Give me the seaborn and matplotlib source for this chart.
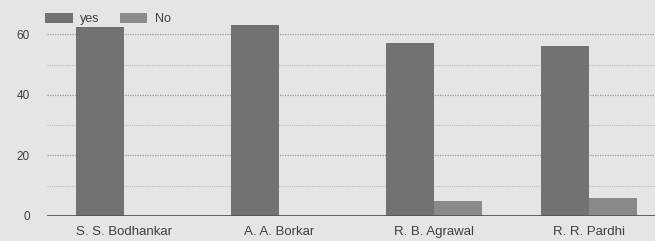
import matplotlib
matplotlib.use("Agg")
import matplotlib.pyplot as plt
import seaborn as sns
import pandas as pd

# values
names = ["S. S. Bodhankar", "A. A. Borkar", "R. B. Agrawal", "R. R. Pardhi"]
yes_vals = [62.5, 63, 57, 56]
no_vals = [0, 0, 5, 6]
series = ["yes", "No"]
yticks = [0, 20, 40, 60]

df = pd.DataFrame({
    "name": names * 2,
    "answer": ["yes"] * len(names) + ["No"] * len(names),
    "count": yes_vals + no_vals,
})

sns.set_theme(style="white")
plt.rcParams["font.family"] = ["Liberation Sans", "DejaVu Sans"]

bg = "#e5e5e8"
fig = plt.figure(figsize=(6.55, 2.41), dpi=100, facecolor=bg)
# axes runs past the right edge, the scan is cropped there
ax = fig.add_axes([46.5 / 655, (241 - 216) / 241, 620 / 655, 212 / 241])
ax.set_facecolor(bg)

sns.barplot(data=df, x="name", y="count", hue="answer", hue_order=series,
            palette=["#727272", "#8a8a8a"], width=0.613, saturation=1,
            linewidth=0, ax=ax)

ax.set_xlim(-0.5, 3.5)
ax.set_ylim(0, 70)
ax.set_yticks(yticks)
ax.set_xlabel("")
ax.set_ylabel("")

# dotted grid, 20s darker than the 10s in between
for v in [10, 30, 50]:
    ax.axhline(v, color="#bbbbbe", lw=0.8, ls=(0, (1, 1)), zorder=0)
for v in [20, 40, 60]:
    ax.axhline(v, color="#9a9a9d", lw=0.9, ls=(0, (1, 1)), zorder=0)
ax.axhline(0, color="#555555", lw=1.3, zorder=3)

for s in ax.spines.values():
    s.set_visible(False)
ax.tick_params(axis="both", length=0, colors="#404040")
ax.tick_params(axis="y", labelsize=8.5, pad=12)
ax.tick_params(axis="x", labelsize=9.5, pad=7)

ax.legend(loc="upper left", bbox_to_anchor=(45 / 655, 1 - 13 / 241),
          bbox_transform=fig.transFigure, ncol=2, frameon=False,
          fontsize=9, handlelength=2.2, handleheight=0.8,
          handletextpad=0.6, columnspacing=1.6, borderpad=0,
          borderaxespad=0, labelcolor="#404040")

fig.savefig("out.png", dpi=100, facecolor=bg)
